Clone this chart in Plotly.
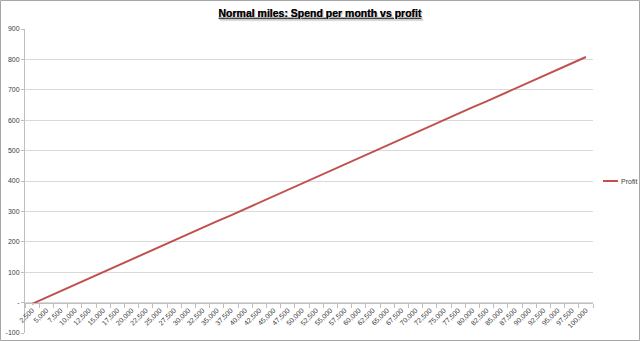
import plotly.graph_objects as go

spend = [2500 * k for k in range(1, 41)]
spend_labels = [f"{s:,}" for s in spend]
profit = [-4, 17, 37, 58, 79, 100, 121, 142, 162, 183,
          204, 225, 246, 267, 287, 308, 329, 350, 371, 392,
          412, 433, 454, 475, 496, 517, 537, 558, 579, 600,
          621, 642, 662, 683, 704, 725, 746, 767, 787, 808]
y_ticks = [-100, 0, 100, 200, 300, 400, 500, 600, 700, 800, 900]
y_labels = ["-100", "-", "100", "200", "300", "400", "500", "600", "700", "800", "900"]
series_name = "Profit"
line_color = "#C0504D"

L, R, T, B = 25, 47, 29, 8
W, H = 640, 341
pw, ph = W - L - R, H - T - B

def px_x(p):
    return (p - L) / pw

def px_y(p):
    return (H - p - B) / ph

fig = go.Figure()
fig.add_trace(go.Scatter(
    x=spend_labels, y=profit, mode="lines", name=series_name,
    line=dict(color=line_color, width=2), showlegend=False,
))

font = dict(family="Liberation Sans, Arial, sans-serif", size=7, color="#404040")

zero_pos = (0 - (-100)) / 1000.0

fig.update_layout(
    width=W, height=H,
    margin=dict(l=L, r=R, t=T, b=B, autoexpand=False),
    paper_bgcolor="white", plot_bgcolor="white",
    title=dict(
        text="<b><u>Normal miles: Spend per month vs profit</u></b>",
        x=0.5, xanchor="center", y=1 - 13 / H, yanchor="middle",
        font=dict(family="Liberation Sans, Arial, sans-serif", size=10.5, color="#000000",
                  shadow="1px 1px 1px #c8c8c8"),
    ),
    showlegend=False,
    xaxis=dict(
        type="category", anchor="free", position=zero_pos,
        showgrid=False, zeroline=False,
        showline=True, linecolor="#BFBFBF", linewidth=1,
        ticks="outside", ticklen=4, tickcolor="#BFBFBF", tickson="boundaries",
        tickangle=-45, tickfont=font,
        range=[-0.5, 39.5],
    ),
    yaxis=dict(
        range=[-100, 900], tickvals=y_ticks, ticktext=y_labels,
        showgrid=True, gridcolor="#D9D9D9", gridwidth=1,
        zeroline=False,
        showline=True, linecolor="#BFBFBF", linewidth=1,
        ticks="outside", ticklen=3, tickcolor="#BFBFBF",
        tickfont=font,
    ),
    shapes=[
        dict(
            type="rect", xref="paper", yref="paper",
            x0=px_x(0.5), x1=px_x(W - 0.5),
            y0=px_y(H - 0.5), y1=px_y(0.5),
            line=dict(color="#A6A6A6", width=1), fillcolor="rgba(0,0,0,0)",
            layer="above",
        ),
        dict(
            type="line", xref="paper", yref="paper",
            x0=px_x(603), x1=px_x(618), y0=px_y(181), y1=px_y(181),
            line=dict(color=line_color, width=2),
        ),
    ],
    annotations=[dict(
        text=series_name, xref="paper", yref="paper",
        x=px_x(619), y=px_y(181), xanchor="left", yanchor="middle",
        showarrow=False, font=font,
    )],
)

fig.write_html("out.html")
